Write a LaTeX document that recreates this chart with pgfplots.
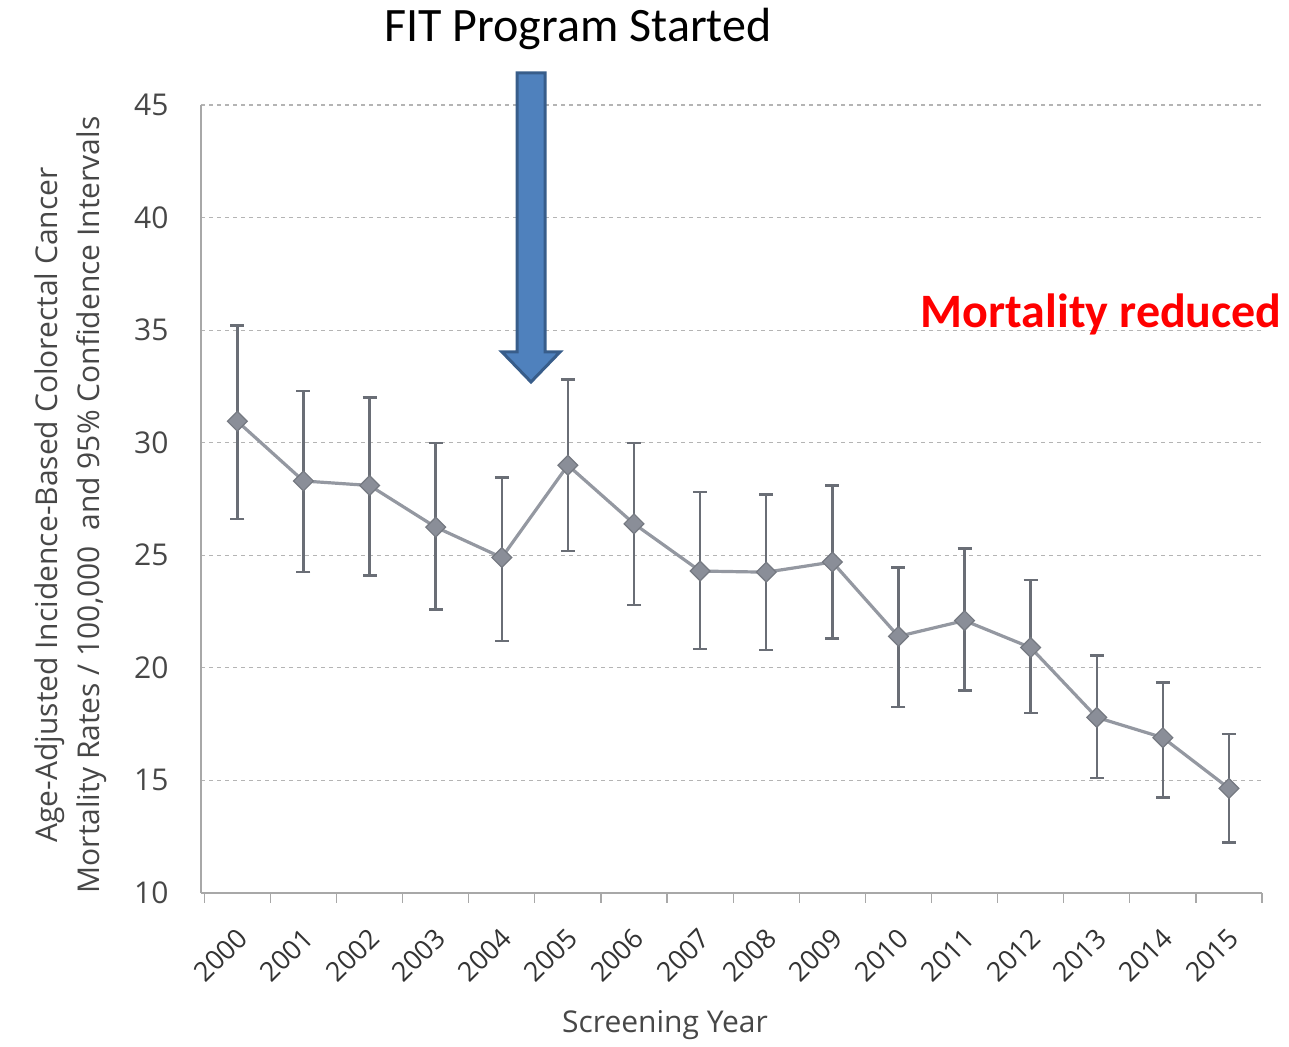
\documentclass[border=0pt]{standalone}
\usepackage{pgfplots}
\pgfplotsset{compat=1.18}
\usepackage{fontspec}
\setmainfont{Open Sans}
\newfontfamily\carlito{Carlito}
\definecolor{linegray}{HTML}{9498A1}
\definecolor{markgray}{HTML}{8A8E98}
\definecolor{bargray}{HTML}{6A6E76}
\definecolor{gridgray}{HTML}{B4B4B4}
\definecolor{axgray}{HTML}{A8A8A8}
\definecolor{txtgray}{HTML}{474747}
\definecolor{arrowfill}{HTML}{4F81BD}
\definecolor{arrowdraw}{HTML}{385D8A}
\begin{document}
\begin{tikzpicture}
\begin{axis}[
  at={(100.5pt,77pt)}, anchor=south west,
  scale only axis, width=530.5pt, height=394pt,
  xmin=-0.55, xmax=15.5, ymin=10, ymax=45,
  axis x line*=bottom, axis y line*=left,
  axis line style={axgray, line width=0.8pt},
  xtick={0,...,15},
  xticklabels={2000,2001,2002,2003,2004,2005,2006,2007,2008,2009,2010,2011,2012,2013,2014,2015},
  minor xtick={-0.5,0.5,...,15.5},
  major x tick style={draw=none},
  minor x tick style={axgray, line width=0.6pt},
  minor tick length=5pt,
  tick align=outside,
  ytick={10,15,...,45},
  major y tick style={draw=none},
  ymajorgrids,
  grid style={gridgray, dashed, line width=0.6pt, dash pattern=on 2pt off 2pt},
  /pgf/number format/assume math mode=true,
  xticklabel style={rotate=45, anchor=east, font=\fontsize{13.5}{15}\selectfont, text=black!80, xshift=-6pt, yshift=-13pt},
  yticklabel style={font=\fontsize{15}{17}\selectfont, text=txtgray, xshift=-8.5pt},
  clip=false,
]
\addplot[
  color=linegray, line width=1.6pt,
  mark=square*, mark size=3.5pt,
  mark options={rotate=45, fill=markgray, draw=markgray!85!black, line width=0.6pt},
  error bars/.cd, y dir=both, y explicit,
  error bar style={bargray, line width=1.2pt},
  error mark options={rotate=90, mark size=3.5pt, bargray, line width=1.2pt},
] table[x=x, y=y, y error plus=ep, y error minus=em] {
x y ep em
0 30.95 4.25 4.35
1 28.3 4.0 4.05
2 28.1 3.9 4.0
3 26.25 3.75 3.65
4 24.9 3.55 3.7
5 29.0 3.8 3.8
6 26.4 3.6 3.6
7 24.3 3.5 3.45
8 24.25 3.45 3.45
9 24.7 3.4 3.4
10 21.4 3.05 3.15
11 22.1 3.2 3.1
12 20.9 3.0 2.9
13 17.8 2.75 2.7
14 16.9 2.45 2.65
15 14.65 2.4 2.4
};
\end{axis}
\begin{scope}[x=0.5pt,y=0.5pt]
\path[use as bounding box] (0,0) rectangle (1289,1047);
% y label
\node[rotate=90, align=center, text=txtgray, font=\fontsize{15}{21}\selectfont] at (71,542)
  {Age-Adjusted Incidence-Based Colorectal Cancer\\Mortality Rates / 100,000~ and 95\% Confidence Intervals};
% x label
\node[text=txtgray, font=\fontsize{15}{18}\selectfont] at (665,22) {Screening Year};
% title annotation
\node[anchor=base, font=\carlito\fontsize{24}{28}\selectfont, text=black] at (578,1005) {FIT Program Started};
% arrow
\filldraw[fill=arrowfill, draw=arrowdraw, line width=1.5pt, line join=miter]
  (517,974) -- (545,974) -- (545,695) -- (560,695) -- (531,665) -- (502,695) -- (517,695) -- cycle;
% red annotation
\node[anchor=base east, inner sep=0pt, font=\carlito\bfseries\fontsize{24}{28}\selectfont, text=red] at (1282,719) {Mortality reduced};
\end{scope}
\end{tikzpicture}
\end{document}
